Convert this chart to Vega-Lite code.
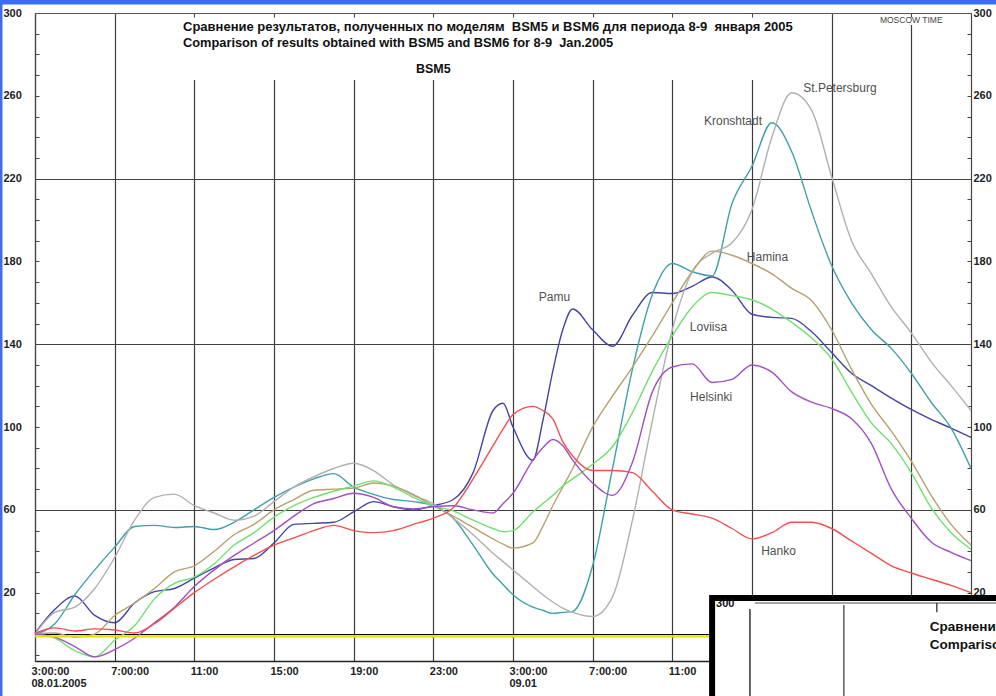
{
  "$schema": "https://vega.github.io/schema/vega-lite/v6.json",
  "width": 936,
  "height": 648,
  "autosize": {"type": "none"},
  "padding": {"left": 35, "top": 13, "right": 25, "bottom": 35},
  "background": "#ffffff",
  "config": {"view": {"stroke": null}},
  "resolve": {"axis": {"x": "independent", "y": "independent"}},
  "layer": [
    {
      "data": {"values": [
        {"t":"2005-01-08 03:00","Pamu":0.5,"Kronshtadt":0,"StPetersburg":0,"Hamina":0,"Loviisa":0,"Helsinki":0,"Hanko":0.5},
        {"t":"2005-01-08 04:00","Pamu":12,"Kronshtadt":5,"StPetersburg":10.5,"Hamina":0.5,"Loviisa":-2,"Helsinki":-1.5,"Hanko":3},
        {"t":"2005-01-08 05:00","Pamu":18.4,"Kronshtadt":19,"StPetersburg":13,"Hamina":-1.5,"Loviisa":-8,"Helsinki":-6,"Hanko":1.5},
        {"t":"2005-01-08 06:00","Pamu":9,"Kronshtadt":31,"StPetersburg":22,"Hamina":0,"Loviisa":-11,"Helsinki":-11,"Hanko":2.5},
        {"t":"2005-01-08 07:00","Pamu":5.5,"Kronshtadt":42,"StPetersburg":37,"Hamina":9,"Loviisa":-3,"Helsinki":-7.5,"Hanko":2},
        {"t":"2005-01-08 08:00","Pamu":15,"Kronshtadt":52,"StPetersburg":55,"Hamina":15,"Loviisa":4,"Helsinki":-2,"Hanko":0.5},
        {"t":"2005-01-08 09:00","Pamu":20.5,"Kronshtadt":52.5,"StPetersburg":66,"Hamina":22,"Loviisa":17,"Helsinki":5.5,"Hanko":5},
        {"t":"2005-01-08 10:00","Pamu":22,"Kronshtadt":51.5,"StPetersburg":67.6,"Hamina":30,"Loviisa":24.5,"Helsinki":13,"Hanko":12.5},
        {"t":"2005-01-08 11:00","Pamu":27,"Kronshtadt":52,"StPetersburg":62,"Hamina":33,"Loviisa":27.5,"Helsinki":23,"Hanko":20},
        {"t":"2005-01-08 12:00","Pamu":32,"Kronshtadt":50.5,"StPetersburg":58.5,"Hamina":40,"Loviisa":34,"Helsinki":31,"Hanko":26.5},
        {"t":"2005-01-08 13:00","Pamu":36,"Kronshtadt":54,"StPetersburg":55,"Hamina":48,"Loviisa":43,"Helsinki":38,"Hanko":32.5},
        {"t":"2005-01-08 14:00","Pamu":36.5,"Kronshtadt":60,"StPetersburg":57,"Hamina":53,"Loviisa":49,"Helsinki":44,"Hanko":38},
        {"t":"2005-01-08 15:00","Pamu":44,"Kronshtadt":66,"StPetersburg":64,"Hamina":60,"Loviisa":56.5,"Helsinki":50,"Hanko":43},
        {"t":"2005-01-08 16:00","Pamu":53,"Kronshtadt":71,"StPetersburg":71,"Hamina":65,"Loviisa":62,"Helsinki":57,"Hanko":46.5},
        {"t":"2005-01-08 17:00","Pamu":53.5,"Kronshtadt":75,"StPetersburg":76,"Hamina":69.5,"Loviisa":66,"Helsinki":63,"Hanko":50},
        {"t":"2005-01-08 18:00","Pamu":54,"Kronshtadt":77.5,"StPetersburg":80,"Hamina":70,"Loviisa":69,"Helsinki":65.5,"Hanko":52.5},
        {"t":"2005-01-08 19:00","Pamu":59,"Kronshtadt":71,"StPetersburg":82.5,"Hamina":70.5,"Loviisa":71.5,"Helsinki":68,"Hanko":50},
        {"t":"2005-01-08 20:00","Pamu":64,"Kronshtadt":67.5,"StPetersburg":79,"Hamina":73,"Loviisa":74,"Helsinki":66,"Hanko":49},
        {"t":"2005-01-08 21:00","Pamu":61.5,"Kronshtadt":65,"StPetersburg":72,"Hamina":71.5,"Loviisa":71,"Helsinki":61.5,"Hanko":50},
        {"t":"2005-01-08 22:00","Pamu":60,"Kronshtadt":64,"StPetersburg":67,"Hamina":67.5,"Loviisa":66,"Helsinki":60.5,"Hanko":53},
        {"t":"2005-01-08 23:00","Pamu":62,"Kronshtadt":62,"StPetersburg":63,"Hamina":62,"Loviisa":62,"Helsinki":61.5,"Hanko":56},
        {"t":"2005-01-09 00:00","Pamu":65,"Kronshtadt":56,"StPetersburg":56,"Hamina":57,"Loviisa":59.5,"Helsinki":62,"Hanko":61},
        {"t":"2005-01-09 01:00","Pamu":78,"Kronshtadt":43,"StPetersburg":48,"Hamina":51.5,"Loviisa":55,"Helsinki":60,"Hanko":75},
        {"t":"2005-01-09 02:00","Pamu":108,"Kronshtadt":29,"StPetersburg":39,"Hamina":46,"Loviisa":51,"Helsinki":58.5,"Hanko":91},
        {"t":"2005-01-09 02:30","Pamu":111.5,"Kronshtadt":24,"StPetersburg":35,"Hamina":43.5,"Loviisa":49.5,"Helsinki":63,"Hanko":99},
        {"t":"2005-01-09 03:00","Pamu":100,"Kronshtadt":19,"StPetersburg":31,"Hamina":41.5,"Loviisa":50,"Helsinki":68,"Hanko":106},
        {"t":"2005-01-09 04:00","Pamu":84,"Kronshtadt":13,"StPetersburg":23,"Hamina":44,"Loviisa":59,"Helsinki":84,"Hanko":110},
        {"t":"2005-01-09 04:30","Pamu":103,"Kronshtadt":11.5,"StPetersburg":19,"Hamina":52,"Loviisa":63,"Helsinki":90,"Hanko":108},
        {"t":"2005-01-09 05:00","Pamu":127,"Kronshtadt":10,"StPetersburg":15.5,"Hamina":62,"Loviisa":67,"Helsinki":94,"Hanko":104},
        {"t":"2005-01-09 05:30","Pamu":147,"Kronshtadt":10.5,"StPetersburg":12.5,"Hamina":71,"Loviisa":71.5,"Helsinki":91,"Hanko":93},
        {"t":"2005-01-09 06:00","Pamu":157,"Kronshtadt":11,"StPetersburg":10.5,"Hamina":80,"Loviisa":75,"Helsinki":84,"Hanko":86},
        {"t":"2005-01-09 07:00","Pamu":147,"Kronshtadt":33,"StPetersburg":8.5,"Hamina":100,"Loviisa":82,"Helsinki":73,"Hanko":79},
        {"t":"2005-01-09 08:00","Pamu":139,"Kronshtadt":80,"StPetersburg":18,"Hamina":115,"Loviisa":90.6,"Helsinki":67,"Hanko":79},
        {"t":"2005-01-09 09:00","Pamu":154,"Kronshtadt":128,"StPetersburg":55,"Hamina":129,"Loviisa":107,"Helsinki":83,"Hanko":78},
        {"t":"2005-01-09 10:00","Pamu":165,"Kronshtadt":164,"StPetersburg":103,"Hamina":144,"Loviisa":127,"Helsinki":117,"Hanko":69},
        {"t":"2005-01-09 11:00","Pamu":164.5,"Kronshtadt":179,"StPetersburg":147,"Hamina":160,"Loviisa":144,"Helsinki":129,"Hanko":60},
        {"t":"2005-01-09 12:00","Pamu":168,"Kronshtadt":175,"StPetersburg":175,"Hamina":175,"Loviisa":158,"Helsinki":130.5,"Hanko":58},
        {"t":"2005-01-09 13:00","Pamu":172.5,"Kronshtadt":173,"StPetersburg":184,"Hamina":185,"Loviisa":165,"Helsinki":121.5,"Hanko":56},
        {"t":"2005-01-09 14:00","Pamu":166,"Kronshtadt":208,"StPetersburg":189,"Hamina":183,"Loviisa":163.5,"Helsinki":123,"Hanko":51},
        {"t":"2005-01-09 15:00","Pamu":154.5,"Kronshtadt":226,"StPetersburg":205,"Hamina":179,"Loviisa":161.5,"Helsinki":130,"Hanko":46},
        {"t":"2005-01-09 16:00","Pamu":153,"Kronshtadt":247,"StPetersburg":240,"Hamina":174,"Loviisa":157,"Helsinki":126.5,"Hanko":49},
        {"t":"2005-01-09 17:00","Pamu":152.5,"Kronshtadt":233,"StPetersburg":261.5,"Hamina":167,"Loviisa":150.5,"Helsinki":117,"Hanko":54},
        {"t":"2005-01-09 18:00","Pamu":146,"Kronshtadt":204,"StPetersburg":253,"Hamina":161,"Loviisa":143,"Helsinki":112,"Hanko":54},
        {"t":"2005-01-09 19:00","Pamu":136,"Kronshtadt":178,"StPetersburg":221,"Hamina":147,"Loviisa":133,"Helsinki":109,"Hanko":51},
        {"t":"2005-01-09 20:00","Pamu":126,"Kronshtadt":160,"StPetersburg":190,"Hamina":128,"Loviisa":117,"Helsinki":104,"Hanko":45},
        {"t":"2005-01-09 21:00","Pamu":120,"Kronshtadt":147,"StPetersburg":174,"Hamina":111,"Loviisa":102,"Helsinki":92,"Hanko":39},
        {"t":"2005-01-09 22:00","Pamu":114,"Kronshtadt":138,"StPetersburg":158,"Hamina":98,"Loviisa":92,"Helsinki":70,"Hanko":33},
        {"t":"2005-01-09 23:00","Pamu":108.5,"Kronshtadt":126,"StPetersburg":145.5,"Hamina":83.5,"Loviisa":78,"Helsinki":56,"Hanko":29.5},
        {"t":"2005-01-10 00:00","Pamu":103.7,"Kronshtadt":112,"StPetersburg":131.5,"Hamina":67,"Loviisa":61,"Helsinki":44.5,"Hanko":26.5},
        {"t":"2005-01-10 01:00","Pamu":99.5,"Kronshtadt":99.5,"StPetersburg":120,"Hamina":53,"Loviisa":49,"Helsinki":39.5,"Hanko":23.5},
        {"t":"2005-01-10 02:00","Pamu":95,"Kronshtadt":80,"StPetersburg":108,"Hamina":43,"Loviisa":41,"Helsinki":35.5,"Hanko":20}
      ]},
      "transform": [{"fold": ["Pamu","Kronshtadt","StPetersburg","Hamina","Loviisa","Helsinki","Hanko"], "as": ["station","level"]}],
      "mark": {"type": "line", "interpolate": "monotone", "strokeWidth": 1.4},
      "encoding": {
        "x": {"field": "t", "type": "temporal",
          "scale": {"domain": [{"year":2005,"month":1,"date":8,"hours":3},{"year":2005,"month":1,"date":10,"hours":2}], "nice": false},
          "axis": {"orient": "bottom", "title": null,
            "values": [{"year":2005,"month":1,"date":8,"hours":3},{"year":2005,"month":1,"date":8,"hours":7},{"year":2005,"month":1,"date":8,"hours":11},{"year":2005,"month":1,"date":8,"hours":15},{"year":2005,"month":1,"date":8,"hours":19},{"year":2005,"month":1,"date":8,"hours":23},{"year":2005,"month":1,"date":9,"hours":3},{"year":2005,"month":1,"date":9,"hours":7},{"year":2005,"month":1,"date":9,"hours":11},{"year":2005,"month":1,"date":9,"hours":15},{"year":2005,"month":1,"date":9,"hours":19},{"year":2005,"month":1,"date":9,"hours":23}],
            "labelExpr": "hours(datum.value) == 3 ? ['3:00:00', date(datum.value) == 8 ? '08.01.2005' : '09.01'] : (hours(datum.value) == 7 ? '7:00:00' : hours(datum.value) + ':00')",
            "grid": true, "gridColor": "#3c3c3c", "gridWidth": 1.2,
            "ticks": false, "domain": true, "domainColor": "#222", "domainWidth": 1.6,
            "labelAlign": "left", "labelBaseline": "top", "labelPadding": 4, "labelOffset": -4,
            "labelFont": "Liberation Sans", "labelFontSize": 11, "labelFontWeight": "bold", "labelColor": "#222",
            "labelLineHeight": 12, "labelOverlap": false, "labelFlush": false, "labelBound": false}},
        "y": {"field": "level", "type": "quantitative",
          "scale": {"domain": [-13, 300], "nice": false, "zero": false},
          "axis": {"orient": "left", "title": null,
            "values": [-10,0,10,20,30,40,50,60,70,80,90,100,110,120,130,140,150,160,170,180,190,200,210,220,230,240,250,260,270,280,290,300],
            "labelExpr": "datum.value >= 20 && (datum.value - 20) % 40 == 0 ? datum.label : ''",
            "tickSize": -4, "tickColor": "#444", "domainColor": "#444", "domainWidth": 1.2,
            "labelPadding": 36, "labelAlign": "left", "labelBaseline": "middle",
            "labelFont": "Liberation Sans", "labelFontSize": 11, "labelFontWeight": "bold", "labelColor": "#222",
            "labelOverlap": false, "labelFlush": false, "labelBound": false,
            "grid": true, "gridWidth": 1.2,
            "gridColor": {"condition": {"test": "datum.value == 0", "value": "#000000"}, "value": "#404040"},
            "gridOpacity": {"condition": {"test": "datum.value == 0 || datum.value % 80 == 60", "value": 1}, "value": 0}}},
        "color": {"field": "station", "type": "nominal", "legend": null,
          "scale": {"domain": ["Pamu","Kronshtadt","StPetersburg","Hamina","Loviisa","Helsinki","Hanko"],
                    "range": ["#4444a4","#40a0a8","#b0b0b0","#b8a070","#70e070","#a050c0","#f05050"]}}
      }
    },
    {
      "data": {"values": [{}]},
      "mark": {"type": "rule", "color": "#e8e000", "strokeWidth": 2.2},
      "encoding": {
        "y": {"datum": -1.1, "type": "quantitative",
          "axis": {"orient": "right", "title": null,
            "values": [-10,0,10,20,30,40,50,60,70,80,90,100,110,120,130,140,150,160,170,180,190,200,210,220,230,240,250,260,270,280,290,300],
            "labelExpr": "datum.value >= 20 && (datum.value - 20) % 40 == 0 ? datum.label : ''",
            "tickSize": -4, "tickColor": "#444", "domainColor": "#444", "domainWidth": 1.2,
            "labelPadding": 6, "labelAlign": "left", "labelBaseline": "middle",
            "labelFont": "Liberation Sans", "labelFontSize": 11, "labelFontWeight": "bold", "labelColor": "#222",
            "labelOverlap": false, "labelFlush": false, "labelBound": false, "grid": false}}
      }
    },
    {
      "data": {"values": [{}]},
      "mark": {"type": "rect", "fill": "#ffffff"},
      "encoding": {
        "x": {"datum": {"year":2005,"month":1,"date":8,"hours":8,"minutes":46}, "type": "temporal",
          "axis": {"orient": "top", "title": null, "labels": false, "grid": false, "zindex": 1,
            "values": [{"year":2005,"month":1,"date":8,"hours":7},{"year":2005,"month":1,"date":8,"hours":11},{"year":2005,"month":1,"date":8,"hours":15},{"year":2005,"month":1,"date":8,"hours":19},{"year":2005,"month":1,"date":8,"hours":23},{"year":2005,"month":1,"date":9,"hours":3},{"year":2005,"month":1,"date":9,"hours":7},{"year":2005,"month":1,"date":9,"hours":11},{"year":2005,"month":1,"date":9,"hours":15},{"year":2005,"month":1,"date":9,"hours":19},{"year":2005,"month":1,"date":9,"hours":23}],
            "tickSize": -4, "tickColor": "#444", "domainColor": "#555", "domainWidth": 1.2}},
        "x2": {"datum": {"year":2005,"month":1,"date":9,"hours":17,"minutes":25}},
        "y": {"datum": 267.6, "type": "quantitative", "axis": null},
        "y2": {"datum": 299.3}
      }
    },
    {
      "data": {"values": [{}]},
      "mark": {"type": "rect", "fill": "#ffffff"},
      "encoding": {
        "x": {"datum": {"year":2005,"month":1,"date":9,"hours":21,"minutes":11}, "type": "temporal", "axis": null},
        "x2": {"datum": {"year":2005,"month":1,"date":10,"hours":0,"minutes":57}},
        "y": {"datum": 294.2, "type": "quantitative", "axis": null},
        "y2": {"datum": 299.2}
      }
    },
    {
      "data": {"values": [{}]},
      "mark": {"type": "text", "text": "Сравнение результатов, полученных по моделям \u00a0BSM5 и BSM6 для периода 8-9 \u00a0января 2005", "align": "left", "baseline": "middle", "font": "Liberation Sans", "fontSize": 13, "fontWeight": "bold", "color": "#111111"},
      "encoding": {
        "x": {"datum": {"year":2005,"month":1,"date":8,"hours":10,"minutes":26}, "type": "temporal", "axis": null},
        "y": {"datum": 293.4, "type": "quantitative", "axis": null}
      }
    },
    {
      "data": {"values": [{}]},
      "mark": {"type": "text", "text": "Comparison of results obtained with BSM5 and BSM6 for 8-9 \u00a0Jan.2005", "align": "left", "baseline": "middle", "font": "Liberation Sans", "fontSize": 12.8, "fontWeight": "bold", "color": "#111111"},
      "encoding": {
        "x": {"datum": {"year":2005,"month":1,"date":8,"hours":10,"minutes":26}, "type": "temporal", "axis": null},
        "y": {"datum": 285.4, "type": "quantitative", "axis": null}
      }
    },
    {
      "data": {"values": [{}]},
      "mark": {"type": "text", "text": "BSM5", "align": "center", "baseline": "middle", "font": "Liberation Sans", "fontSize": 12.5, "fontWeight": "bold", "color": "#111111"},
      "encoding": {
        "x": {"datum": {"year":2005,"month":1,"date":8,"hours":23}, "type": "temporal", "axis": null},
        "y": {"datum": 272.8, "type": "quantitative", "axis": null}
      }
    },
    {
      "data": {"values": [{}]},
      "mark": {"type": "text", "text": "MOSCOW TIME", "align": "center", "baseline": "middle", "font": "Liberation Sans", "fontSize": 8.5, "color": "#444444"},
      "encoding": {
        "x": {"datum": {"year":2005,"month":1,"date":9,"hours":23}, "type": "temporal", "axis": null},
        "y": {"datum": 296.6, "type": "quantitative", "axis": null}
      }
    },
    {
      "data": {"values": [
        {"name": "Pamu", "t": "2005-01-09 05:05", "v": 162.9},
        {"name": "Kronshtadt", "t": "2005-01-09 14:03", "v": 248},
        {"name": "St.Petersburg", "t": "2005-01-09 19:25", "v": 263.8},
        {"name": "Hamina", "t": "2005-01-09 15:47", "v": 182.3},
        {"name": "Loviisa", "t": "2005-01-09 12:49", "v": 148.5},
        {"name": "Helsinki", "t": "2005-01-09 12:57", "v": 114.3},
        {"name": "Hanko", "t": "2005-01-09 16:20", "v": 40.1}
      ]},
      "mark": {"type": "text", "align": "center", "baseline": "middle", "font": "Liberation Sans", "fontSize": 12, "color": "#505050"},
      "encoding": {
        "x": {"field": "t", "type": "temporal", "axis": null},
        "y": {"field": "v", "type": "quantitative", "axis": null},
        "text": {"field": "name"}
      }
    },
    {
      "data": {"values": [{}]},
      "mark": {"type": "rect", "fill": "#ffffff", "stroke": "#000000", "strokeWidth": 6},
      "encoding": {
        "x": {"datum": {"year":2005,"month":1,"date":9,"hours":13}, "type": "temporal", "axis": null},
        "x2": {"datum": {"year":2005,"month":1,"date":10,"hours":4}},
        "y": {"datum": 17.4, "type": "quantitative", "axis": null},
        "y2": {"datum": -35}
      }
    },
    {
      "data": {"values": [{}]},
      "mark": {"type": "rule", "color": "#888888", "strokeWidth": 1.5},
      "encoding": {
        "x": {"datum": {"year":2005,"month":1,"date":9,"hours":15,"minutes":9}, "type": "temporal", "axis": null},
        "x2": {"datum": {"year":2005,"month":1,"date":10,"hours":4}},
        "y": {"datum": 15, "type": "quantitative", "axis": null}
      }
    },
    {
      "data": {"values": [{}]},
      "mark": {"type": "rule", "color": "#333333", "strokeWidth": 1.5},
      "encoding": {
        "x": {"datum": {"year":2005,"month":1,"date":9,"hours":14,"minutes":54}, "type": "temporal", "axis": null},
        "y": {"datum": 12.1, "type": "quantitative", "axis": null},
        "y2": {"datum": -35}
      }
    },
    {
      "data": {"values": [{}]},
      "mark": {"type": "rule", "color": "#444444", "strokeWidth": 1.3},
      "encoding": {
        "x": {"datum": {"year":2005,"month":1,"date":9,"hours":19,"minutes":37}, "type": "temporal", "axis": null},
        "y": {"datum": 14, "type": "quantitative", "axis": null},
        "y2": {"datum": -35}
      }
    },
    {
      "data": {"values": [{}]},
      "mark": {"type": "rule", "color": "#333333", "strokeWidth": 1.3},
      "encoding": {
        "x": {"datum": {"year":2005,"month":1,"date":10,"hours":0,"minutes":17}, "type": "temporal", "axis": null},
        "y": {"datum": 15, "type": "quantitative", "axis": null},
        "y2": {"datum": 10.6}
      }
    },
    {
      "data": {"values": [{}]},
      "mark": {"type": "text", "text": "300", "align": "left", "baseline": "middle", "font": "Liberation Sans", "fontSize": 11, "fontWeight": "bold", "color": "#111111"},
      "encoding": {
        "x": {"datum": {"year":2005,"month":1,"date":9,"hours":13,"minutes":12}, "type": "temporal", "axis": null},
        "y": {"datum": 14.3, "type": "quantitative", "axis": null}
      }
    },
    {
      "data": {"values": [{}]},
      "mark": {"type": "text", "text": "Сравнение результатов, полученных по моделям BSM5 и BSM6", "align": "left", "baseline": "middle", "font": "Liberation Sans", "fontSize": 13.5, "fontWeight": "bold", "color": "#111111"},
      "encoding": {
        "x": {"datum": {"year":2005,"month":1,"date":9,"hours":23,"minutes":56}, "type": "temporal", "axis": null},
        "y": {"datum": 3.4, "type": "quantitative", "axis": null}
      }
    },
    {
      "data": {"values": [{}]},
      "mark": {"type": "text", "text": "Comparison of results obtained with BSM5 and BSM6", "align": "left", "baseline": "middle", "font": "Liberation Sans", "fontSize": 13.5, "fontWeight": "bold", "color": "#111111"},
      "encoding": {
        "x": {"datum": {"year":2005,"month":1,"date":9,"hours":23,"minutes":56}, "type": "temporal", "axis": null},
        "y": {"datum": -5.3, "type": "quantitative", "axis": null}
      }
    },
    {
      "data": {"values": [{}]},
      "mark": {"type": "rect", "fill": "#3a6cf4"},
      "encoding": {
        "x": {"datum": {"year":2005,"month":1,"date":8,"hours":0}, "type": "temporal", "axis": null},
        "x2": {"datum": {"year":2005,"month":1,"date":10,"hours":6}},
        "y": {"datum": 304.1, "type": "quantitative", "axis": null},
        "y2": {"datum": 310}
      }
    },
    {
      "data": {"values": [{}]},
      "mark": {"type": "rect", "fill": "#3a6cf4"},
      "encoding": {
        "x": {"datum": {"year":2005,"month":1,"date":8,"hours":1}, "type": "temporal", "axis": null},
        "x2": {"datum": {"year":2005,"month":1,"date":8,"hours":1,"minutes":22}},
        "y": {"datum": -40, "type": "quantitative", "axis": null},
        "y2": {"datum": 310}
      }
    }
  ]
}
